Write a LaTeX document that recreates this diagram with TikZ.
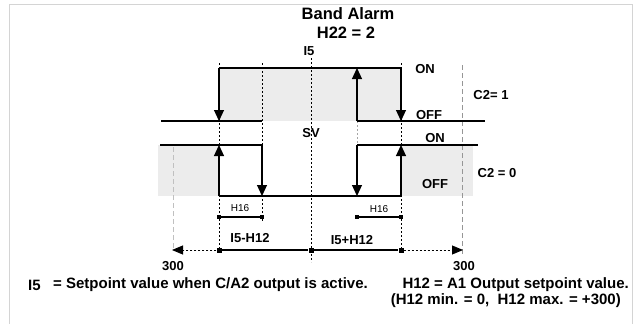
\documentclass[tikz,border=0pt]{standalone}
\usepackage{fontspec}
\setmainfont{Liberation Sans}
\usetikzlibrary{arrows.meta}
\definecolor{framec}{RGB}{212,212,212}
\definecolor{fillc}{RGB}{236,236,236}
\definecolor{gdashc}{RGB}{150,150,150}
\begin{document}
\begin{tikzpicture}[x=1pt,y=-1pt,
  wave/.style={line width=1.1pt, black},
  dotl/.style={line width=0.9pt, black, dash pattern=on 2pt off 2pt},
  gdash/.style={line width=0.9pt, gdashc, dash pattern=on 5pt off 3pt},
  arr/.style={-{Triangle[width=10pt,length=11pt]}},
  lbl/.style={font=\fontsize{13}{13}\selectfont\bfseries, inner sep=0pt},
  ttl/.style={font=\fontsize{16.5}{16.5}\selectfont\bfseries, inner sep=0pt},
  small/.style={font=\fontsize{10}{10}\selectfont, inner sep=0pt},
  foot/.style={font=\fontsize{15}{15}\selectfont\bfseries, inner sep=0pt},
  sq/.style={fill=black, minimum size=4.5pt, inner sep=0pt, draw=none}
]
\useasboundingbox (0,0) rectangle (635,324);
% frame
\draw[framec, line width=1pt] (9,326) -- (9,4) -- (632,4) -- (632,326);

% key coordinates
\coordinate (A1) at (219,68);  \coordinate (A2) at (219,121);
\coordinate (D1) at (357,68);  \coordinate (D2) at (357,121);
\coordinate (E1) at (401,68);  \coordinate (E2) at (401,121);
\coordinate (A3) at (219,145); \coordinate (A4) at (219,196);
\coordinate (B3) at (262,145); \coordinate (B4) at (262,196);
\coordinate (D3) at (357,145); \coordinate (D4) at (357,196);
\coordinate (E3) at (401,145); \coordinate (E4) at (401,196);

% fills
\fill[fillc] (A1) rectangle (E2);
\fill[fillc] (158,145) rectangle (A4);
\fill[fillc] (E3) rectangle (473,196);

% dotted / dashed verticals
\draw[dotl] (219,63) -- (219,250);
\draw[dotl] (262,63) -- (262,222);
\draw[dotl] (311,58) -- (311,262);
\draw[dotl] (401,63) -- (401,250);
\draw[dotl, black!35] (D2) -- (D3);
\draw[gdash, gdashc!60] (173,147) -- (173,250);
\draw[gdash] (462,65) -- (462,254);

% C2 = 1 curve
\coordinate (U0) at (161,121); \coordinate (U1) at (262,121);
\coordinate (U2) at (485,121);
\draw[wave] (U0) -- (U1);
\draw[wave] (D2) -- (U2);
\draw[wave] (A1) -- (E1);
\draw[wave, arr] (A1) -- (A2);
\draw[wave, arr] (D2) -- (D1);
\draw[wave, arr] (E1) -- (E2);

% C2 = 0 curve
\coordinate (L0) at (160,145); \coordinate (L1) at (478,145);
\draw[wave] (L0) -- (B3);
\draw[wave] (D3) -- (L1);
\draw[wave] (A4) -- (E4);
\draw[wave, arr] (A4) -- (A3);
\draw[wave, arr] (B3) -- (B4);
\draw[wave, arr] (D3) -- (D4);
\draw[wave, arr] (E4) -- (E3);

% H16 brackets
\node[sq] (h1a) at (219,217) {};
\node[sq] (h1b) at (262,217) {};
\node[sq] (h2a) at (357,217) {};
\node[sq] (h2b) at (401,217) {};
\draw[wave] (h1a) -- (h1b);
\draw[wave] (h2a) -- (h2b);
\node[small] (h16a) at (240,208) {H16};
\node[small] (h16b) at (379,209) {H16};

% axis
\node[sq, minimum size=5pt] (axA) at (219,250) {};
\node[sq, minimum size=5pt] (axC) at (311,250) {};
\node[sq, minimum size=5pt] (axE) at (401,250) {};
\coordinate (axL) at (172,250);
\coordinate (axR) at (463,250);
\draw[wave] (axA) -- (axC) -- (axE);
\draw[dotl, -{Triangle[width=9pt,length=11pt]}] (axA) -- (axL);
\draw[dotl, -{Triangle[width=9pt,length=11pt]}] (axE) -- (axR);

% labels
\node[ttl] (t1) at (348,14) {Band Alarm};
\node[ttl] (t2) at (346,33) {H22 = 2};
\node[lbl] (i5) at (309,51) {I5};
\node[lbl] (on1) at (425,69) {ON};
\node[lbl] (off1) at (429,115) {OFF};
\node[lbl] (c21) at (491,95) {C2= 1};
\node[lbl] (sv) at (311,133) {SV};
\node[lbl] (on2) at (435,138) {ON};
\node[lbl] (c20) at (497,173) {C2 = 0};
\node[lbl] (off2) at (435,184) {OFF};
\node[lbl] (m1) at (250,238) {I5-H12};
\node[lbl] (m2) at (352,240) {I5+H12};
\node[lbl] (n1) at (173,266) {300};
\node[lbl] (n2) at (464,266) {300};

% footnotes
\node[foot, anchor=west] (f1) at (28,285) {I5};
\node[foot, anchor=west] (f2) at (53,285) {= Setpoint value when C/A2 output is active.};
\node[foot, anchor=east] (f3) at (629,285) {H12 = A1 Output setpoint value.};
\node[foot, anchor=east] (f4) at (621,301) {(H12 min. = 0,\ \ H12 max. = +300)};
\end{tikzpicture}
\end{document}
